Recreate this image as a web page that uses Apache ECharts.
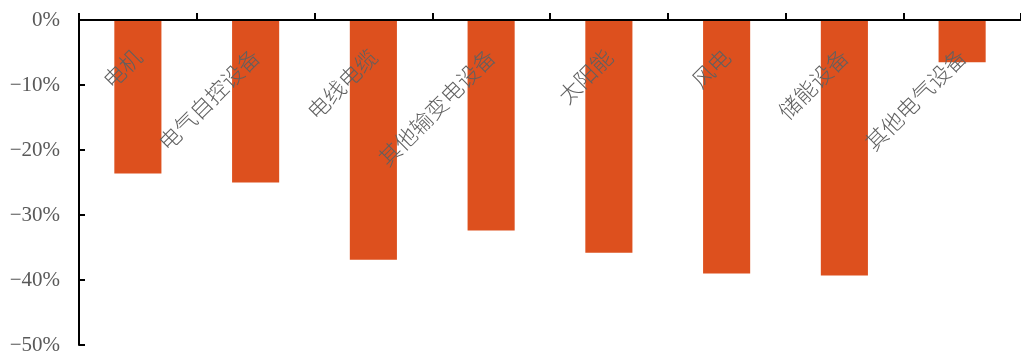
<!DOCTYPE html>
<html>
<head>
<meta charset="utf-8">
<script src="https://cdn.jsdelivr.net/npm/echarts@6/dist/echarts.min.js"></script>
<style>
  html, body { margin: 0; padding: 0; background: #fff; }
  #chart { width: 1021px; height: 356px; }
</style>
</head>
<body>
<div id="chart"></div>
<script>
// Sector names and their percentage change
const categories = ['电机', '电气自控设备', '电线电缆', '其他输变电设备', '太阳能', '风电', '储能设备', '其他电气设备'];
const changes = [-23.6, -25.0, -36.9, -32.4, -35.8, -39.0, -39.3, -6.5];
const yTicks = [0, -10, -20, -30, -40, -50];

const chart = echarts.init(document.getElementById('chart'), null, { renderer: 'canvas' });

const fmtPct = v => (v < 0 ? '\u2212' : '') + Math.abs(v) + '%';

chart.setOption({
  animation: false,
  grid: { left: 79, right: 0, top: 20, bottom: 11, containLabel: false, outerBoundsMode: 'none' },
  xAxis: {
    type: 'category',
    position: 'top',
    data: categories,
    z: 10,
    axisLine: { onZero: false, lineStyle: { color: '#000', width: 2 } },
    axisTick: { show: true, inside: false, length: 7, lineStyle: { color: '#000', width: 2 } },
    axisLabel: {
      inside: true,
      interval: 0,
      rotate: -45,
      margin: 33,
      align: 'right',
      verticalAlign: 'middle',
      color: '#606060',
      fontFamily: 'Noto Sans CJK SC',
      fontWeight: 300,
      fontSize: 22
    },
    splitLine: { show: false }
  },
  yAxis: {
    type: 'value',
    min: Math.min(...yTicks),
    max: Math.max(...yTicks),
    interval: 10,
    axisLine: { show: true, lineStyle: { color: '#000', width: 2 } },
    axisTick: { show: true, inside: true, length: 6, lineStyle: { color: '#000', width: 2 } },
    axisLabel: {
      margin: 19,
      color: '#595959',
      fontFamily: 'Liberation Serif',
      fontSize: 21,
      formatter: fmtPct
    },
    splitLine: { show: false }
  },
  series: [{
    type: 'bar',
    data: changes,
    barWidth: '40%',
    itemStyle: { color: '#DD501E' },
    z: 2
  }]
});
</script>
</body>
</html>
